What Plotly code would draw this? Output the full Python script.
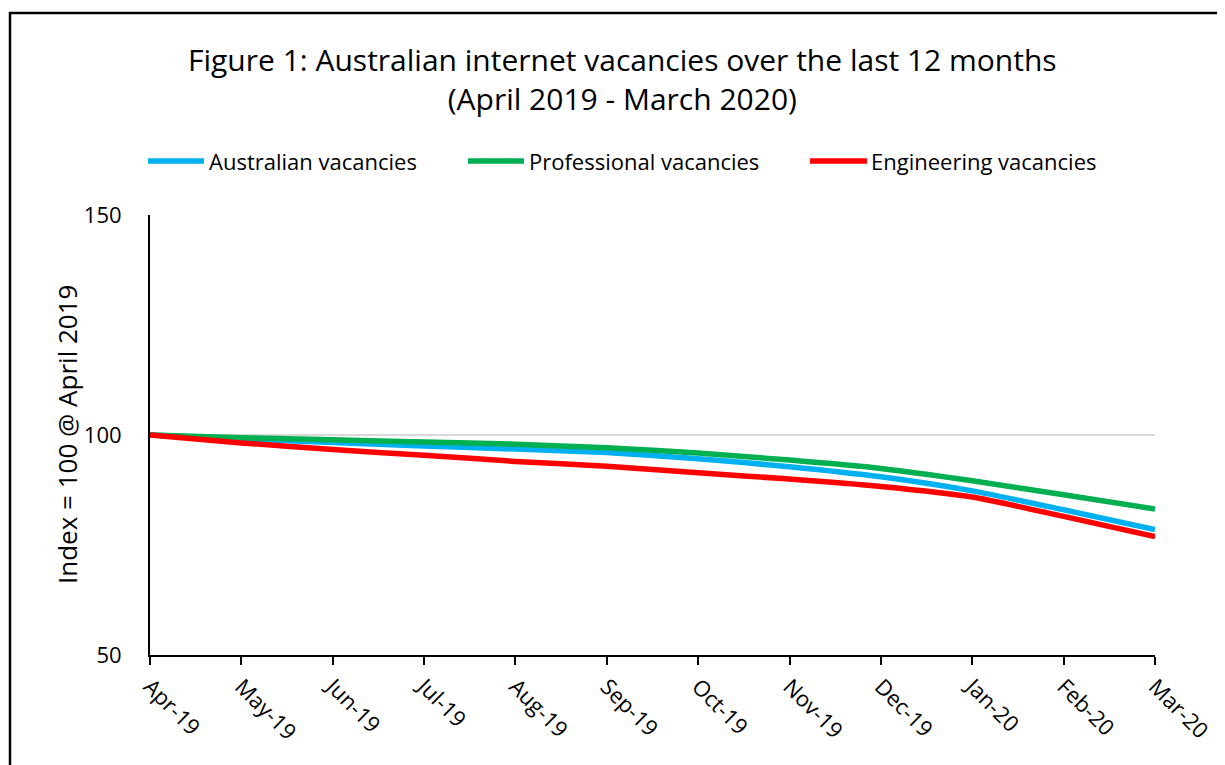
import plotly.graph_objects as go

months = ["Apr-19", "May-19", "Jun-19", "Jul-19", "Aug-19", "Sep-19",
          "Oct-19", "Nov-19", "Dec-19", "Jan-20", "Feb-20", "Mar-20"]
australian = [100, 99.1, 98.3, 97.5, 96.8, 96.0, 94.6, 92.8, 90.5, 87.3, 83.0, 78.5]
professional = [100, 99.4, 98.9, 98.4, 97.9, 97.1, 95.9, 94.3, 92.4, 89.6, 86.4, 83.2]
engineering = [100, 98.2, 96.7, 95.4, 94.0, 92.9, 91.4, 90.0, 88.3, 85.9, 81.5, 76.9]

series_names = ["Australian vacancies", "Professional vacancies", "Engineering vacancies"]
series_values = [australian, professional, engineering]
colors = ["#00B0F0", "#00B050", "#FF0000"]

FONT = "Open Sans, Noto Sans, DejaVu Sans, sans-serif"

OFF = 8  # default page body margin
W, H = 1225, 765
L, R, T, B = 150 - OFF, 1225 - (1155 - OFF), 215 - OFF, 765 - (655 - OFF)
PW, PH = W - L - R, H - T - B


def px_x(px):
    return (px - OFF - L) / PW


def px_y(py):
    return (H - B - (py - OFF)) / PH


fig = go.Figure()
for name, vals, col in zip(series_names, series_values, colors):
    fig.add_trace(go.Scatter(
        x=months, y=vals, name=name, mode="lines",
        line=dict(color=col, width=5.5, shape="spline", smoothing=0.6),
        showlegend=False,
    ))

shapes = []
annotations = []

# custom legend (line swatches + labels)
legend_line = [(148, 204), (468, 524), (810, 867)]
legend_text_x = [207, 527, 869]
ly = px_y(161)
for (x0, x1), tx, name, col in zip(legend_line, legend_text_x, series_names, colors):
    shapes.append(dict(type="line", xref="paper", yref="paper",
                       x0=px_x(x0), x1=px_x(x1), y0=ly, y1=ly,
                       line=dict(color=col, width=5.5)))
    annotations.append(dict(xref="paper", yref="paper", x=px_x(tx), y=ly,
                            xanchor="left", yanchor="middle", showarrow=False,
                            text=name, font=dict(family=FONT, size=22, color="#000")))

# outer frame
shapes.append(dict(type="rect", xref="paper", yref="paper",
                   x0=px_x(10), x1=px_x(1260), y0=px_y(800), y1=px_y(13),
                   line=dict(color="#000", width=2.5), fillcolor="rgba(0,0,0,0)",
                   layer="below"))

# title
annotations.append(dict(xref="paper", yref="paper", x=px_x(622), y=px_y(79),
                        xanchor="center", yanchor="middle", showarrow=False,
                        text="Figure 1: Australian internet vacancies over the last 12 months<br>(April 2019 - March 2020)",
                        font=dict(family=FONT, size=30, color="#000")))

# y axis title
annotations.append(dict(xref="paper", yref="paper", x=px_x(67), y=0.5,
                        xanchor="center", yanchor="middle", showarrow=False,
                        textangle=-90, text="Index = 100 @ April 2019",
                        font=dict(family=FONT, size=26, color="#000")))

fig.update_layout(
    width=W, height=H,
    margin=dict(l=L, r=R, t=T, b=B, autoexpand=False),
    paper_bgcolor="white", plot_bgcolor="white",
    font=dict(family=FONT, color="#000"),
    shapes=shapes, annotations=annotations,
    showlegend=False,
)
fig.update_xaxes(
    type="category", range=[0, len(months) - 1],
    showline=True, linecolor="#000", linewidth=2,
    ticks="outside", ticklen=8, tickwidth=2, tickcolor="#000",
    tickangle=45, tickfont=dict(family=FONT, size=22, color="#000"),
    showgrid=False, zeroline=False,
)
fig.update_yaxes(
    range=[50, 150], dtick=50, tick0=50,
    showline=True, linecolor="#000", linewidth=2,
    showgrid=True, gridcolor="#d9d9d9", gridwidth=1.5,
    ticks="outside", ticklen=22, tickcolor="rgba(0,0,0,0)",
    tickfont=dict(family=FONT, size=22, color="#000"),
    zeroline=False,
)

fig.write_html("out.html")
